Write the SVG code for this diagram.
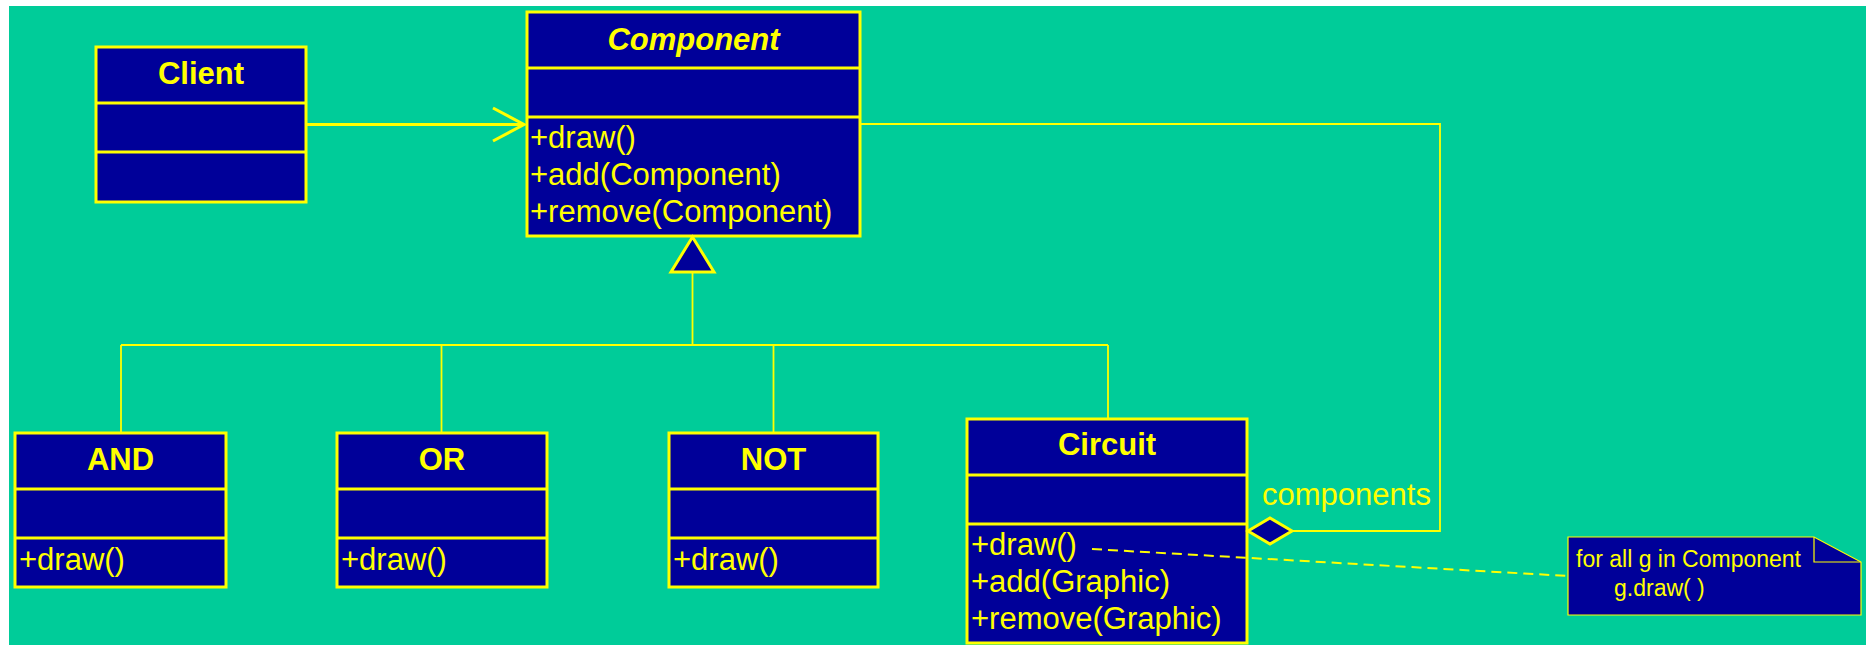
<svg xmlns="http://www.w3.org/2000/svg" width="1869" height="645" viewBox="0 0 1869 645">
<style>
.box{fill:#000099;stroke:#FFFF00;stroke-width:3}
.sep{stroke:#FFFF00;stroke-width:3}
.ln{fill:none;stroke:#FFFF00;stroke-width:1.8}
.title{font-family:"Liberation Sans",Arial,sans-serif;font-size:31px;font-weight:bold;fill:#FFFF00;text-anchor:middle}
.op{font-family:"Liberation Sans",Arial,sans-serif;font-size:31px;fill:#FFFF00}
.note{font-family:"Liberation Sans",Arial,sans-serif;font-size:23px;fill:#FFFF00}
</style>
<rect x="0" y="0" width="1869" height="645" fill="#FFFFFF"/>
<rect x="9" y="6" width="1857" height="639" fill="#00CC99"/>

<g id="client">
  <rect class="box" x="96" y="47" width="210" height="155"/>
  <line class="sep" x1="96" y1="103" x2="306" y2="103"/>
  <line class="sep" x1="96" y1="152" x2="306" y2="152"/>
  <text class="title" x="201" y="84">Client</text>
</g>

<g id="component">
  <rect class="box" x="527" y="12" width="333" height="224"/>
  <line class="sep" x1="527" y1="68" x2="860" y2="68"/>
  <line class="sep" x1="527" y1="117" x2="860" y2="117"/>
  <text class="title" x="693.5" y="50" font-style="italic">Component</text>
  <text class="op" x="530" y="148">+draw()</text>
  <text class="op" x="530" y="185">+add(Component)</text>
  <text class="op" x="530" y="222">+remove(Component)</text>
</g>

<g id="and">
  <rect class="box" x="15" y="433" width="211" height="154"/>
  <line class="sep" x1="15" y1="489" x2="226" y2="489"/>
  <line class="sep" x1="15" y1="538" x2="226" y2="538"/>
  <text class="title" x="120.5" y="470">AND</text>
  <text class="op" x="19" y="570">+draw()</text>
</g>

<g id="or">
  <rect class="box" x="337" y="433" width="210" height="154"/>
  <line class="sep" x1="337" y1="489" x2="547" y2="489"/>
  <line class="sep" x1="337" y1="538" x2="547" y2="538"/>
  <text class="title" x="442" y="470">OR</text>
  <text class="op" x="341" y="570">+draw()</text>
</g>

<g id="not">
  <rect class="box" x="669" y="433" width="209" height="154"/>
  <line class="sep" x1="669" y1="489" x2="878" y2="489"/>
  <line class="sep" x1="669" y1="538" x2="878" y2="538"/>
  <text class="title" x="773.5" y="470">NOT</text>
  <text class="op" x="673" y="570">+draw()</text>
</g>

<g id="circuit">
  <rect class="box" x="967" y="419" width="280" height="224"/>
  <line class="sep" x1="967" y1="475" x2="1247" y2="475"/>
  <line class="sep" x1="967" y1="524" x2="1247" y2="524"/>
  <text class="title" x="1107" y="455">Circuit</text>
  <text class="op" x="971" y="555">+draw()</text>
  <text class="op" x="971" y="592">+add(Graphic)</text>
  <text class="op" x="971" y="629">+remove(Graphic)</text>
</g>

<g id="note">
  <polygon points="1568,537 1814,537 1861,562 1861,615 1568,615" fill="#000099" stroke="#FFFF00" stroke-width="1.2"/>
  <polyline points="1814,537 1814,562 1861,562" fill="none" stroke="#FFFF00" stroke-width="1.2"/>
  <text class="note" x="1576" y="567">for all g in Component</text>
  <text class="note" x="1614" y="596">g.draw( )</text>
</g>

<g id="connectors">
  <line x1="306" y1="124.5" x2="524" y2="124.5" stroke="#FFFF00" stroke-width="3"/>
  <polyline points="493,108 524,124.5 493,141" fill="none" stroke="#FFFF00" stroke-width="3"/>
  <polyline class="ln" points="861,124 1440,124 1440,531 1292,531"/>
  <polygon points="1248,531 1270,518 1292,531 1270,544" fill="#000099" stroke="#FFFF00" stroke-width="3"/>
  <line class="ln" x1="692.5" y1="272" x2="692.5" y2="345"/>
  <line class="ln" x1="121" y1="345" x2="1108" y2="345"/>
  <line class="ln" x1="121" y1="345" x2="121" y2="432"/>
  <line class="ln" x1="441.5" y1="345" x2="441.5" y2="432"/>
  <line class="ln" x1="773.5" y1="345" x2="773.5" y2="432"/>
  <line class="ln" x1="1108" y1="345" x2="1108" y2="418"/>
  <polygon points="692.5,237 671,272 714,272" fill="#000099" stroke="#FFFF00" stroke-width="3"/>
  <line x1="1092" y1="549" x2="1568" y2="576" stroke="#FFFF00" stroke-width="2" stroke-dasharray="10,6"/>
  <text class="op" x="1262" y="505">components</text>
</g>
</svg>
